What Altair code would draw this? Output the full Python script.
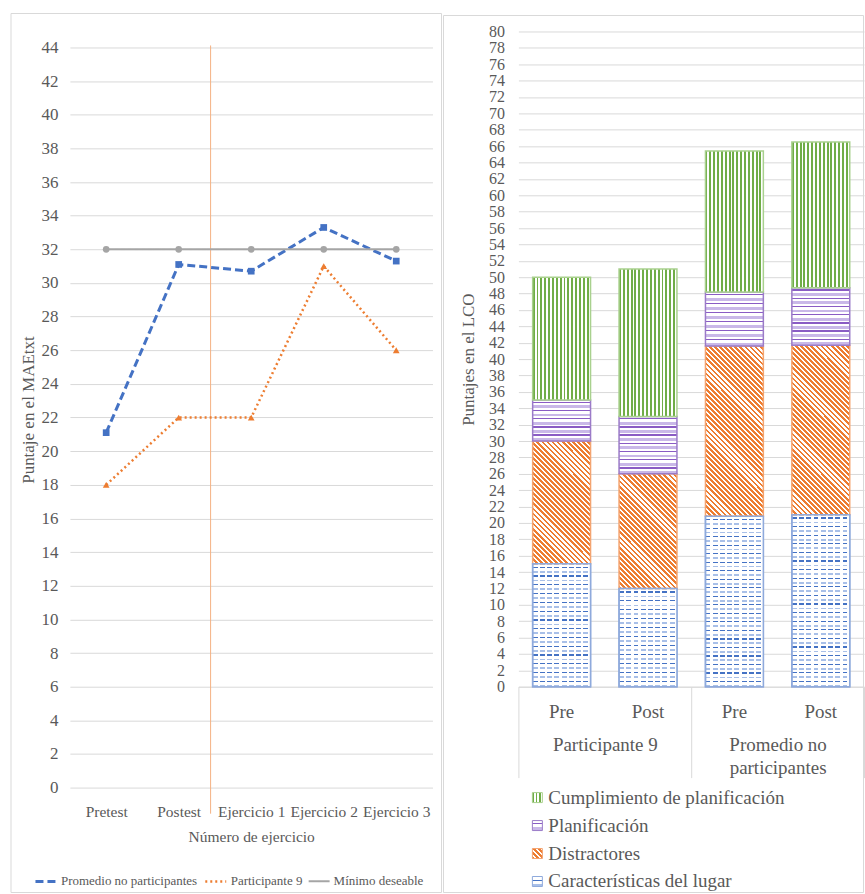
import math
import altair as alt

# ---------------- Panel izquierdo: MAEtxt por ejercicio ----------------
ejercicios = ["Pretest", "Postest", "Ejercicio 1", "Ejercicio 2", "Ejercicio 3"]
promedio_no_part = [21.1, 31.1, 30.7, 33.3, 31.3]
participante_9 = [18, 22, 22, 31, 26]
minimo_deseable = [32, 32, 32, 32, 32]
series = ["Promedio no participantes", "Participante 9", "Mínimo deseable"]

# ---------------- Panel derecho: LCO por dimensión ----------------
grupos = ["Participante 9", "Promedio no participantes"]
fases = ["Pre", "Post"]
dimensiones = ["Características del lugar", "Distractores", "Planificación",
               "Cumplimiento de planificación"]
# orden de las barras: (P9 Pre, P9 Post, Prom Pre, Prom Post)
caracteristicas = [15, 12, 20.8, 21.0]
distractores = [15, 14, 20.8, 20.7]
planificacion = [5, 7, 6.6, 7.0]
cumplimiento = [15, 18, 17.2, 17.8]

# ---------------- estilo ----------------
FUENTE = "Liberation Serif"
TXT = "#595959"
REJILLA = "#d9d9d9"
AZUL, NARANJA, GRIS = "#4472c4", "#ed7d31", "#a5a5a5"
VERDE = "#70ad47"
MORADO, MORADO_CL = "#8a5cc4", "#c9b8e8"
AZUL_CL = "#a9c0e8"
BLANCO = "#ffffff"
BORDES = {
    "Características del lugar": "#8faadc",
    "Distractores": "#f4a470",
    "Planificación": "#9b7bc8",
    "Cumplimiento de planificación": "#a9d18e",
}
MARCADORES = {
    "Promedio no participantes": ("square", AZUL),
    "Participante 9": ("triangle-up", NARANJA),
    "Mínimo deseable": ("circle", GRIS),
}

ANCHO_IZQ, ALTO_IZQ = 363, 757
ANCHO_DER, ALTO_DER = 346, 656
MAX_DER = 80
PX_PUNTO = ALTO_DER / MAX_DER
ANCHO_BARRA = 58


def franjas(vec, n, patron):
    """Gradiente lineal con cortes duros que imita una trama."""
    x1, y1, x2, y2 = vec
    n = max(1, int(round(n)))
    stops = []
    for k in range(n):
        acc = 0.0
        for color, frac in patron:
            a = (k + acc) / n
            acc += frac
            b = (k + acc) / n
            stops.append({"offset": round(a, 5), "color": color})
            stops.append({"offset": round(b, 5), "color": color})
    return {"gradient": "linear", "x1": x1, "y1": y1, "x2": x2, "y2": y2,
            "stops": stops}


def trama(dim, w, h):
    if dim == "Cumplimiento de planificación":
        return franjas((0, 0, 1, 0), w / 3.9, [(VERDE, 0.5), (BLANCO, 0.5)])
    if dim == "Planificación":
        return franjas((0, 0, 0, 1), h / 8.4,
                       [(BLANCO, 0.2), (MORADO, 0.16), (BLANCO, 0.3), (MORADO_CL, 0.34)])
    if dim == "Distractores":
        r = h / w
        largo = (w + h * h / w) / math.sqrt(2)
        return franjas((0, r, 1, 0), largo / 3.6, [(NARANJA, 0.55), (BLANCO, 0.45)])
    return franjas((0, 0, 0, 1), h / 8.6,
                   [(BLANCO, 0.32), (AZUL, 0.14), (BLANCO, 0.34), (AZUL_CL, 0.2)])


def cortes(w):
    return franjas((0, 0, 1, 0), w / 7.0, [("rgba(255,255,255,0)", 0.68), (BLANCO, 0.32)])


# ---------------- tabla de barras ----------------
valores = dict(zip(dimensiones, [caracteristicas, distractores, planificacion, cumplimiento]))
barras = []
j = 0
for g in grupos:
    for f in fases:
        for orden, d in enumerate(dimensiones):
            v = valores[d][j]
            barras.append({
                "grupo": g, "fase": f, "dimension": d, "valor": v, "orden": orden,
                "relleno": trama(d, ANCHO_BARRA, v * PX_PUNTO),
                "guiones": cortes(ANCHO_BARRA),
                "borde": BORDES[d],
            })
        j += 1
barras_lugar = [b for b in barras if b["dimension"] == "Características del lugar"]

# leyenda del panel derecho (de arriba hacia abajo)
leyenda = []
for i, d in enumerate(reversed(dimensiones)):
    leyenda.append({
        "grupo": grupos[0], "nombre": d,
        "valor": -(111 + 28 * i) / PX_PUNTO,
        "relleno": trama(d, 10, 10), "borde": BORDES[d],
    })

# ---------------- panel izquierdo ----------------
filas = []
for s, vals in zip(series, [promedio_no_part, participante_9, minimo_deseable]):
    for i, v in enumerate(vals):
        filas.append({"serie": s, "idx": i, "puntaje": v})

etiquetas_x = "[" + ",".join("'%s'" % e for e in ejercicios) + "][datum.value]"
x_ej = alt.X("idx:Q",
             scale=alt.Scale(domain=[-0.5, 4.5], nice=False, zero=False),
             axis=alt.Axis(values=[0, 1, 2, 3, 4], labelExpr=etiquetas_x,
                           title="Número de ejercicio", grid=False, ticks=False,
                           domain=False, labelPadding=17, titlePadding=9,
                           labelFontSize=15.5, titleFontSize=15.5,
                           labelFont=FUENTE, titleFont=FUENTE))
y_pt = alt.Y("puntaje:Q",
             scale=alt.Scale(domain=[0, 44.95], nice=False),
             axis=alt.Axis(values=list(range(0, 45, 2)), title="Puntaje en el MAEtxt",
                           gridColor=REJILLA, domain=False, ticks=False,
                           labelPadding=12, titlePadding=3, labelOverlap=False,
                           labelFontSize=17, titleFontSize=17,
                           labelFont=FUENTE, titleFont=FUENTE))

ley_izq = alt.Legend(title=None, orient="none", legendX=-36, legendY=839,
                     direction="horizontal", symbolType="stroke", symbolSize=440,
                     symbolStrokeWidth=3, labelFontSize=13, labelOffset=3,
                     columnPadding=2, labelColor=TXT, labelFont=FUENTE)
color = alt.Color("serie:N", sort=series,
                  scale=alt.Scale(domain=series, range=[AZUL, NARANJA, GRIS]),
                  legend=ley_izq)
trazo = alt.StrokeDash("serie:N", sort=series,
                       scale=alt.Scale(domain=series, range=[[8, 4], [2, 3], [1, 0]]),
                       legend=ley_izq)
grosor = alt.StrokeWidth("serie:N", sort=series,
                         scale=alt.Scale(domain=series, range=[3, 2, 3.2]),
                         legend=None)

base_izq = alt.Chart(alt.Data(values=filas))
lineas = base_izq.mark_line().encode(x=x_ej, y=y_pt, color=color,
                                     strokeDash=trazo, strokeWidth=grosor)
# marcadores de cada serie
marcas = [
    base_izq.transform_filter(alt.datum.serie == s).mark_point(
        filled=True, size=45, opacity=1, strokeWidth=0,
        shape=MARCADORES[s][0], color=MARCADORES[s][1]).encode(x=x_ej, y=y_pt)
    for s in series
]
# línea que separa las pruebas de los ejercicios
separador = alt.Chart(alt.Data(values=[{"idx": 1.44, "puntaje": 44.12, "fin": -1.55}])
                      ).mark_rule(color="#f4b183", strokeWidth=1).encode(
    x=x_ej, y=y_pt, y2="fin:Q")
marco_izq = alt.Chart(alt.Data(values=[{}])).mark_rect(
    fillOpacity=0, stroke=REJILLA, strokeWidth=1).encode(
    x=alt.value(-59), x2=alt.value(372), y=alt.value(-18), y2=alt.value(862))

izq = alt.layer(marco_izq, separador, lineas, *marcas).properties(
    width=ANCHO_IZQ, height=ALTO_IZQ)

# ---------------- panel derecho ----------------
eje_grupo = alt.Axis(title=None, tickBand="extent", ticks=True, tickSize=91,
                     tickColor=REJILLA, domainColor=REJILLA, labelAngle=0,
                     labelExpr="datum.value == 'Promedio no participantes' ? "
                               "['Promedio no', 'participantes'] : datum.label",
                     labelPadding=-42, labelFontSize=19, labelLineHeight=23,
                     labelColor=TXT, labelOverlap=False, labelFont=FUENTE)
esc_grupo = alt.Scale(domain=grupos, paddingInner=0, paddingOuter=0)
x_grupo = alt.X("grupo:N", sort=grupos, scale=esc_grupo, axis=eje_grupo)
x_fase = alt.XOffset("fase:N", sort=fases,
                     scale=alt.Scale(domain=fases, paddingInner=0.33, paddingOuter=0.165))
eje_lco = alt.Axis(values=list(range(0, MAX_DER + 1, 2)), title="Puntajes en el LCO",
                   gridColor=REJILLA, domain=False, ticks=False, labelPadding=14,
                   titlePadding=11, labelFontSize=16, titleFontSize=17,
                   labelOverlap=False, labelFont=FUENTE, titleFont=FUENTE)
esc_lco = alt.Scale(domain=[0, MAX_DER], nice=False)
y_val = alt.Y("valor:Q", stack="zero", scale=esc_lco, axis=eje_lco)
y_fijo = alt.Y("valor:Q", stack=None, scale=esc_lco, axis=eje_lco)

marco_der = alt.Chart(alt.Data(values=[{}])).mark_rect(
    fillOpacity=0, stroke=REJILLA, strokeWidth=1).encode(
    x=alt.value(-75), x2=alt.value(345.5), y=alt.value(-16), y2=alt.value(862))

apiladas = alt.Chart(alt.Data(values=barras)).mark_bar(strokeWidth=1.5).encode(
    x=x_grupo, xOffset=x_fase, y=y_val,
    fill=alt.Fill("relleno:N", scale=None),
    stroke=alt.Stroke("borde:N", scale=None),
    order=alt.Order("orden:Q"),
)
guiones = alt.Chart(alt.Data(values=barras_lugar)).mark_bar(strokeWidth=1.5).encode(
    x=x_grupo, xOffset=x_fase, y=y_val,
    fill=alt.Fill("guiones:N", scale=None),
    stroke=alt.Stroke("borde:N", scale=None),
    order=alt.Order("orden:Q"),
)
fase_txt = alt.Chart(alt.Data(values=[{"grupo": g, "fase": f, "valor": 0}
                                      for g in grupos for f in fases])
                     ).mark_text(dy=25, fontSize=19, color=TXT, baseline="middle",
                                 font=FUENTE).encode(
    x=x_grupo, xOffset=x_fase, y=y_fijo, text="fase:N")

x_ley = alt.X("grupo:N", sort=grupos, scale=esc_grupo, axis=eje_grupo, bandPosition=0)
ley_cuadros = alt.Chart(alt.Data(values=leyenda)).mark_square(
    size=100, xOffset=19, strokeWidth=1, opacity=1).encode(
    x=x_ley, y=y_fijo,
    fill=alt.Fill("relleno:N", scale=None),
    stroke=alt.Stroke("borde:N", scale=None))
ley_textos = alt.Chart(alt.Data(values=leyenda)).mark_text(
    align="left", baseline="middle", xOffset=30, fontSize=19, color=TXT,
    font=FUENTE).encode(
    x=x_ley, y=y_fijo, text="nombre:N")

der = alt.layer(marco_der, apiladas, guiones, fase_txt, ley_cuadros, ley_textos).properties(
    width=ANCHO_DER, height=ALTO_DER)

chart = alt.hconcat(izq, der, spacing=86, bounds="flush").properties(
    padding={"left": 10, "top": 12, "right": 0, "bottom": 0}
).configure(font=FUENTE).configure_view(strokeWidth=0).configure_axis(
    labelFont=FUENTE, titleFont=FUENTE, labelColor=TXT, titleColor=TXT,
    titleFontWeight="normal"
).configure_axisY(labelOverlap=False).configure_text(font=FUENTE).configure_legend(
    labelFont=FUENTE)

chart.save("out.html", embed_options={"renderer": "svg", "actions": False})
